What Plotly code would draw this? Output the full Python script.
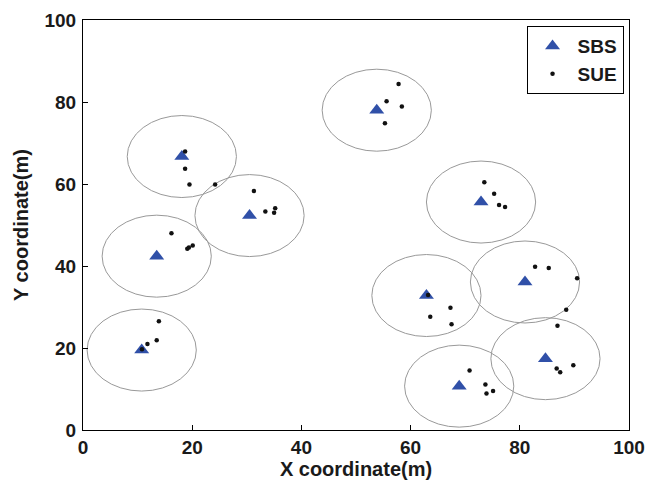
import plotly.graph_objects as go

# SBS (small base station) positions
sbs_x = [10.75, 13.5, 18.1, 30.5, 53.8, 72.9, 62.9, 80.95, 68.9, 84.7]
sbs_y = [19.5, 42.4, 66.7, 52.3, 78.0, 55.6, 32.8, 36.1, 10.7, 17.4]
coverage_radius = 10

# SUE (small-cell user equipment) positions
sue_x = [13.9, 13.5, 11.8, 10.8,
         16.2, 19.1, 19.4, 20.1,
         18.7, 18.7, 19.5, 24.2,
         31.3, 33.4, 35.0, 35.2,
         57.8, 55.6, 58.4, 55.3,
         73.5, 75.3, 76.2, 77.3,
         63.2, 67.3, 63.6, 67.5,
         82.8, 85.3, 90.5, 88.5,
         86.9, 86.75, 87.4, 89.8,
         70.8, 73.7, 73.9, 75.1]
sue_y = [26.5, 21.9, 21.0, 19.7,
         48.0, 44.2, 44.5, 45.0,
         67.9, 63.7, 59.9, 59.9,
         58.3, 53.3, 53.0, 54.1,
         84.4, 80.2, 78.9, 74.8,
         60.4, 57.6, 54.9, 54.4,
         32.9, 29.8, 27.6, 25.8,
         39.8, 39.5, 37.0, 29.3,
         25.4, 15.0, 14.1, 15.8,
         14.5, 11.1, 8.9, 9.5]

x_ticks = [0, 20, 40, 60, 80, 100]
y_ticks = [0, 20, 40, 60, 80, 100]

font_family = "Liberation Sans, Arial, sans-serif"
text_color = "#1a1a1a"

fig = go.Figure()

shapes = []
for cx, cy in zip(sbs_x, sbs_y):
    shapes.append(dict(type="circle", xref="x", yref="y",
                       x0=cx - coverage_radius, x1=cx + coverage_radius,
                       y0=cy - coverage_radius, y1=cy + coverage_radius,
                       line=dict(color="#999999", width=1), layer="below"))

fig.add_trace(go.Scatter(x=sbs_x, y=sbs_y, mode="markers", name="SBS",
                         marker=dict(symbol="triangle-up", size=13, color="#3050a8")))
fig.add_trace(go.Scatter(x=sue_x, y=sue_y, mode="markers", name="SUE",
                         marker=dict(symbol="circle", size=4.5, color="#111111")))

axis_common = dict(showgrid=False, zeroline=False, showline=True, linecolor="black",
                   linewidth=1, mirror=True, ticks="inside", ticklen=5, tickcolor="black",
                   automargin=False,
                   tickfont=dict(family=font_family, size=19, color=text_color, weight="bold"))

fig.update_layout(
    width=650, height=480,
    margin=dict(l=83, r=21, t=20, b=50),
    paper_bgcolor="white", plot_bgcolor="white",
    shapes=shapes,
    xaxis=dict(range=[0, 100], tickvals=x_ticks, ticklabelstandoff=0,
               title=dict(text="X coordinate(m)", standoff=0,
                          font=dict(family=font_family, size=20, color=text_color, weight="bold")),
               **axis_common),
    yaxis=dict(range=[0, 100], tickvals=y_ticks, ticklabelstandoff=2,
               title=dict(text="Y coordinate(m)", standoff=10,
                          font=dict(family=font_family, size=20, color=text_color, weight="bold")),
               **axis_common),
    legend=dict(x=0.99, y=0.985, xanchor="right", yanchor="top",
                bordercolor="black", borderwidth=1, bgcolor="white",
                font=dict(family=font_family, size=19, color=text_color, weight="bold"),
                itemwidth=40, tracegroupgap=0),
    showlegend=True,
)

fig.write_html("out.html")
